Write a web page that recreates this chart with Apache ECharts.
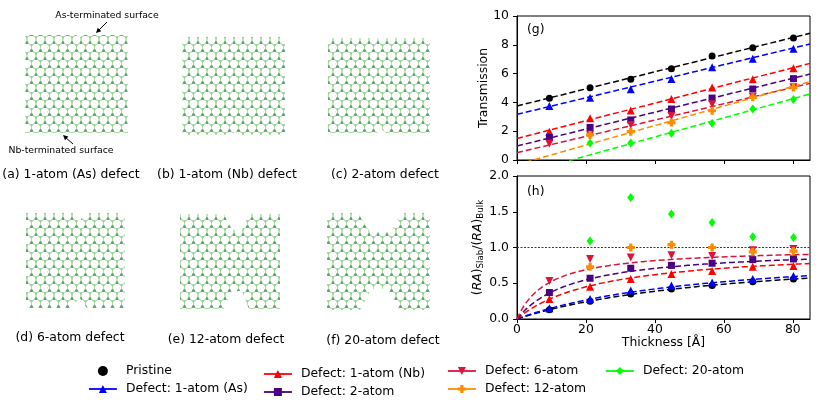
<!DOCTYPE html>
<html>
<head>
<meta charset="utf-8">
<script src="https://cdn.jsdelivr.net/npm/echarts@6/dist/echarts.min.js"></script>
<style>
  html, body { margin: 0; padding: 0; background: #fff; }
  #main { width: 830px; height: 401px; }
</style>
</head>
<body>
<div id="main"></div>
<script>
// slab thickness in Angstrom (x of every point)
const thickness = [9.4, 21.2, 33.0, 44.8, 56.6, 68.4, 80.2];
const xTicks = [0, 20, 40, 60, 80];

const seriesNames = ['Pristine', 'Defect: 1-atom (As)', 'Defect: 1-atom (Nb)', 'Defect: 2-atom',
  'Defect: 6-atom', 'Defect: 12-atom', 'Defect: 20-atom'];

// panel (g): transmission
const transPristine = [4.28, 5.02, 5.60, 6.34, 7.22, 7.80, 8.47];
const transAs = [3.75, 4.33, 4.91, 5.62, 6.44, 7.03, 7.73];
const transNb = [1.97, 2.90, 3.44, 4.24, 5.03, 5.60, 6.37];
const trans2 = [1.57, 2.26, 2.78, 3.54, 4.30, 4.93, 5.65];
const trans6 = [1.13, 1.75, 2.43, 3.05, 3.88, 4.40, 5.05];
const trans12 = [null, 1.74, 1.97, 2.60, 3.42, 4.35, 5.03];
const trans20 = [null, 1.18, 1.18, 1.85, 2.55, 3.54, 4.21];

// linear fits T = a + b*d
const fitIntercept = [3.75, 3.17, 1.50, 0.97, 0.51, -0.32, -1.05];
const fitSlope = [0.0594, 0.0575, 0.0613, 0.0588, 0.0566, 0.0678, 0.0663];

// panel (h): (RA)slab / (RA)bulk
const ratioPristine = [0.13, 0.25, 0.35, 0.42, 0.47, 0.52, 0.56];
const ratioAs = [0.15, 0.28, 0.40, 0.47, 0.51, 0.56, 0.60];
const ratioNb = [0.28, 0.45, 0.56, 0.63, 0.67, 0.73, 0.74];
const ratio2 = [0.37, 0.57, 0.71, 0.75, 0.78, 0.83, 0.84];
const ratio6 = [0.53, 0.84, 0.86, 0.89, 0.88, 0.96, 0.98];
const ratio12 = [null, 0.73, 1.00, 1.04, 1.00, 0.94, 0.95];
const ratio20 = [null, 1.09, 1.70, 1.47, 1.35, 1.15, 1.14];
const curvesFor = [0, 1, 2, 3, 4]; // which defects get a fitted curve in (h)

const transData = [transPristine, transAs, transNb, trans2, trans6, trans12, trans20];
const ratioData = [ratioPristine, ratioAs, ratioNb, ratio2, ratio6, ratio12, ratio20];

const colors = ['#000000', '#0000ff', '#ff0000', '#4b0082', '#dc143c', '#ff8c00', '#00ff00'];
const invTri = 'path://M0,0 L10,0 L5,9 Z';
const plus = 'path://M3,0 H7 V3 H10 V7 H7 V10 H3 V7 H0 V3 H3 Z';
const symbols = ['circle', 'triangle', 'triangle', 'rect', invTri, plus, 'diamond'];
const symbolSizes = [7, 8, 8, 7, 8, 8, [7, 9]];

const FONT = 'DejaVu Sans';
const XMAX = 85;

// honeycomb tile used to fill the structure pictures
function latticeTile() {
  const w = 9, h = 16, r = h / 3;
  const c = document.createElement('canvas');
  c.width = w; c.height = h;
  const ctx = c.getContext('2d');
  ctx.fillStyle = '#fff';
  ctx.fillRect(0, 0, w, h);
  const centers = [];
  for (let j = -1; j <= 3; j++) {
    for (let i = -1; i <= 2; i++) {
      centers.push([i * w + (j % 2 ? w / 2 : 0), j * 1.5 * r]);
    }
  }
  ctx.strokeStyle = '#b3dcac';
  ctx.lineWidth = 1;
  centers.forEach(([cx, cy]) => {
    ctx.beginPath();
    ctx.moveTo(cx, cy - r);
    ctx.lineTo(cx + w / 2, cy - r / 2);
    ctx.lineTo(cx + w / 2, cy + r / 2);
    ctx.lineTo(cx, cy + r);
    ctx.lineTo(cx - w / 2, cy + r / 2);
    ctx.lineTo(cx - w / 2, cy - r / 2);
    ctx.closePath();
    ctx.stroke();
  });
  centers.forEach(([cx, cy]) => {
    ctx.fillStyle = '#5aa574';
    [[cx, cy - r], [cx - w / 2, cy + r / 2], [cx + w / 2, cy + r / 2]].forEach(([x, y]) => {
      ctx.beginPath(); ctx.arc(x, y, 1.2, 0, Math.PI * 2); ctx.fill();
    });
    ctx.fillStyle = '#94d184';
    [[cx, cy + r], [cx - w / 2, cy - r / 2], [cx + w / 2, cy - r / 2]].forEach(([x, y]) => {
      ctx.beginPath(); ctx.arc(x, y, 0.9, 0, Math.PI * 2); ctx.fill();
    });
  });
  return c;
}

const tile = latticeTile();
const latticeFill = { image: tile, repeat: 'repeat' };

// outlines of the six defect structures
const structures = [
  [[25, 35], [76, 35], [79, 39], [82, 35], [128, 35], [128, 133], [25, 133]],
  [[182, 37], [285, 37], [285, 135], [238, 135], [235, 131], [232, 135], [182, 135]],
  [[328, 38], [377, 38], [381, 43], [386, 38], [430, 38], [430, 133], [386, 133], [381, 128], [377, 133], [328, 133]],
  [[26, 213], [73, 213], [79, 223], [85, 213], [125, 213], [125, 308], [87, 308], [79, 297], [72, 308], [26, 308]],
  [[180, 214], [224, 214], [232, 230], [242, 230], [249, 214], [280, 214], [280, 309], [249, 309], [242, 291], [232, 291], [224, 309], [180, 309]],
  [[327, 213], [358, 213], [370, 232], [391, 232], [401, 213], [430, 213], [430, 310], [399, 310], [388, 289], [371, 289], [360, 310], [327, 310]]
];
const captions = [
  ['(a) 1-atom (As) defect', 71, 175], ['(b) 1-atom (Nb) defect', 227, 175], ['(c) 2-atom defect', 385, 175],
  ['(d) 6-atom defect', 70, 338], ['(e) 12-atom defect', 226, 340], ['(f) 20-atom defect', 383, 341]
];

const graphic = [];
structures.forEach(pts => {
  graphic.push({ type: 'polygon', shape: { points: pts }, style: { fill: latticeFill, stroke: null }, silent: true });
});
captions.forEach(([t, x, y]) => {
  graphic.push({ type: 'text', x: x, y: y, style: { text: t, fontSize: 12.4, fontFamily: FONT, fill: '#000', textAlign: 'center', textVerticalAlign: 'middle' } });
});
graphic.push(
  { type: 'text', x: 107, y: 16, style: { text: 'As-terminated surface', fontSize: 9.3, fontFamily: FONT, fill: '#000', textAlign: 'center', textVerticalAlign: 'middle' } },
  { type: 'text', x: 61, y: 151, style: { text: 'Nb-terminated surface', fontSize: 9.3, fontFamily: FONT, fill: '#000', textAlign: 'center', textVerticalAlign: 'middle' } },
  { type: 'line', shape: { x1: 107, y1: 22, x2: 98, y2: 31 }, style: { stroke: '#000', lineWidth: 1 } },
  { type: 'polygon', shape: { points: [[96, 33], [101.3, 31.3], [97.7, 27.7]] }, style: { fill: '#000' } },
  { type: 'line', shape: { x1: 73, y1: 144, x2: 65, y2: 137 }, style: { stroke: '#000', lineWidth: 1 } },
  { type: 'polygon', shape: { points: [[63, 135], [68.4, 136.5], [65.0, 140.2]] }, style: { fill: '#000' } },
  { type: 'text', x: 527, y: 30, style: { text: '(g)', fontSize: 12.4, fontFamily: FONT, fill: '#000', textVerticalAlign: 'middle' } },
  { type: 'text', x: 527, y: 192, style: { text: '(h)', fontSize: 12.4, fontFamily: FONT, fill: '#000', textVerticalAlign: 'middle' } }
);

const series = [];
// (g) dashed fit lines
seriesNames.forEach((name, i) => {
  series.push({
    name: name + ' fit', type: 'line', xAxisIndex: 0, yAxisIndex: 0,
    data: [[0, fitIntercept[i]], [XMAX, fitIntercept[i] + fitSlope[i] * XMAX]],
    showSymbol: false, silent: true, clip: true,
    lineStyle: { color: colors[i], width: 1.5, type: [6, 3] }
  });
});
// (h) dashed model curves built from the same fits
const curveX = [];
for (let d = 0; d <= XMAX; d += 0.5) curveX.push(d);
curvesFor.forEach(i => {
  const a = fitIntercept[i], b = fitSlope[i];
  const s = {
    name: seriesNames[i] + ' curve', type: 'line', xAxisIndex: 1, yAxisIndex: 1,
    data: curveX.map(d => [d, b * d / (a + b * d)]),
    showSymbol: false, silent: true,
    lineStyle: { color: colors[i], width: 1.5, type: [6, 3] }
  };
  if (i === 0) {
    s.markLine = {
      silent: true, symbol: ['none', 'none'], label: { show: false },
      lineStyle: { color: '#9b1010', type: [2, 1.5], width: 1 },
      data: [{ yAxis: 1 }]
    };
  }
  series.push(s);
});
// markers of both panels
[transData, ratioData].forEach((set, panel) => {
  seriesNames.forEach((name, i) => {
    const pts = [];
    thickness.forEach((x, k) => { if (set[i][k] != null) pts.push([x, set[i][k]]); });
    series.push({
      name: name, type: i === 0 ? 'scatter' : 'line',
      xAxisIndex: panel, yAxisIndex: panel, data: pts,
      symbol: symbols[i], symbolSize: symbolSizes[i], showSymbol: true,
      itemStyle: { color: colors[i], opacity: 1 },
      lineStyle: { color: colors[i], opacity: 0 },
      z: 5
    });
  });
});

const axisLine = { show: true, lineStyle: { color: '#000', width: 1 } };
const tick = { show: true, length: 4, lineStyle: { color: '#000' } };
const lbl = { color: '#000', fontSize: 12.4, fontFamily: FONT };

function legendCol(left, top, names) {
  return {
    left: left, top: top, orient: 'vertical', data: names, padding: 0,
    itemWidth: 28, itemHeight: 10, itemGap: 4,
    textStyle: { color: '#000', fontSize: 12.4, fontFamily: FONT, lineHeight: 14, padding: [0, 0, 0, 4] },
    lineStyle: { width: 1.8, type: 'solid', opacity: 1 },
    selectedMode: false
  };
}

const chart = echarts.init(document.getElementById('main'), null, { renderer: 'canvas' });
chart.setOption({
  animation: false,
  backgroundColor: '#fff',
  textStyle: { fontFamily: FONT },
  grid: [
    { left: 517, top: 16, width: 293, height: 144, show: true, borderColor: '#000', borderWidth: 1, backgroundColor: 'transparent' },
    { left: 517, top: 176, width: 293, height: 143, show: true, borderColor: '#000', borderWidth: 1, backgroundColor: 'transparent' }
  ],
  xAxis: [
    { gridIndex: 0, type: 'value', min: 0, max: XMAX, axisLine: axisLine,
      axisTick: Object.assign({ customValues: xTicks }, tick), axisLabel: { show: false }, splitLine: { show: false } },
    { gridIndex: 1, type: 'value', min: 0, max: XMAX, axisLine: axisLine,
      axisTick: Object.assign({ customValues: xTicks }, tick),
      axisLabel: Object.assign({ customValues: xTicks, margin: 5 }, lbl), splitLine: { show: false },
      name: 'Thickness [Å]', nameLocation: 'middle', nameGap: 16, nameTextStyle: lbl }
  ],
  yAxis: [
    { gridIndex: 0, type: 'value', min: 0, max: 10, interval: 2, axisLine: axisLine, axisTick: tick,
      axisLabel: Object.assign({ margin: 8 }, lbl), splitLine: { show: false },
      name: 'Transmission', nameLocation: 'middle', nameGap: 24, nameTextStyle: lbl },
    { gridIndex: 1, type: 'value', min: 0, max: 2, interval: 0.5, axisLine: axisLine, axisTick: tick,
      axisLabel: Object.assign({ margin: 8, formatter: v => v.toFixed(1) }, lbl), splitLine: { show: false },
      name: '{n|(}{i|RA}{n|)}{s|Slab}{n|/(}{i|RA}{n|)}{s|Bulk}', nameLocation: 'middle', nameGap: 24,
      nameTextStyle: {
        color: '#000', fontFamily: FONT,
        rich: {
          n: { fontSize: 12.4, fontFamily: FONT, color: '#000', verticalAlign: 'middle', lineHeight: 16 },
          i: { fontSize: 12.4, fontFamily: FONT, color: '#000', fontStyle: 'italic', verticalAlign: 'middle', lineHeight: 16 },
          s: { fontSize: 8.7, fontFamily: FONT, color: '#000', verticalAlign: 'bottom', lineHeight: 16 }
        }
      } }
  ],
  legend: [
    legendCol(88, 364, [seriesNames[0], seriesNames[1]]),
    legendCol(263, 367, [seriesNames[2], seriesNames[3]]),
    legendCol(447, 364, [seriesNames[4], seriesNames[5]]),
    legendCol(605, 364, [seriesNames[6]])
  ],
  graphic: graphic,
  series: series
});
</script>
</body>
</html>
